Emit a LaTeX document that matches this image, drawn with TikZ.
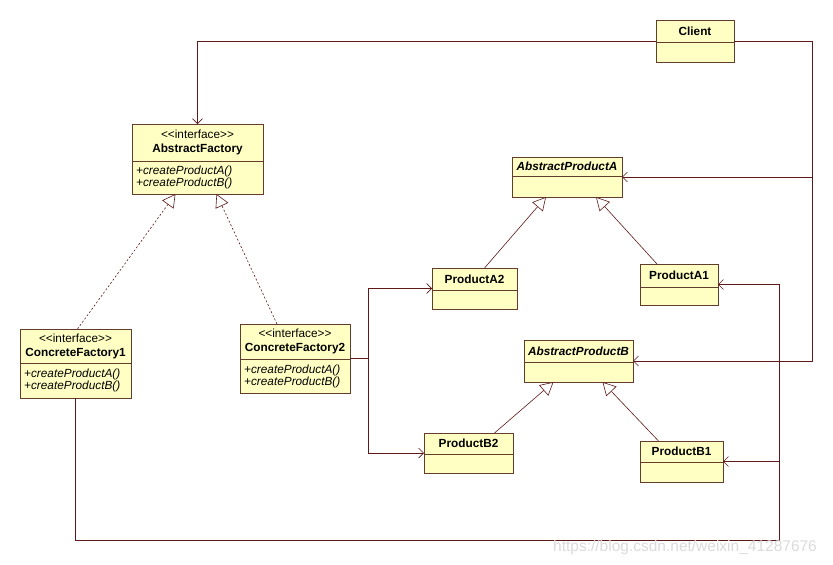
\documentclass[tikz,border=0pt]{standalone}
\usepackage{fontspec}
\setmainfont{Liberation Sans}
\usetikzlibrary{arrows.meta}
\definecolor{umlfill}{RGB}{255,255,196}
\definecolor{umlline}{RGB}{95,25,25}
\definecolor{umlbox}{RGB}{100,60,45}
\tikzset{
  clsbox/.style={draw=umlbox, fill=umlfill, line width=0.8pt, inner sep=0pt, outer sep=0pt, rectangle},
  clsline/.style={draw=umlbox, line width=0.8pt},
  clstext/.style={inner sep=2pt, font=\fontsize{11.8}{14}\selectfont, text=black},
  bodytext/.style={inner sep=4pt, font=\fontsize{11.8}{12}\selectfont\itshape, text=black, anchor=west, align=left},
  assoc/.style={draw=umlline, line width=0.6pt, -{Straight Barb[length=5pt,width=10pt]}},
  gen/.style={draw=umlline, line width=0.6pt, -{Triangle[open,length=13pt,width=14pt,fill=white]}},
  real/.style={gen, dash pattern=on 2pt off 2pt},
  plainline/.style={draw=umlline, line width=0.6pt}
}
\newcommand{\stereo}{<\kern0pt<interface>\kern0pt>}
\newcommand{\umlclass}[8]{%
  \node[clsbox, minimum width={(#4-#2)*1pt}, minimum height={(#5-#3)*1pt}] (#1) at ({(#2+#4)/2},{(#3+#5)/2}) {};
  \draw[clsline] (#2,#6) -- (#4,#6);
  \node[clstext, align=center] (#1-h) at ({(#2+#4)/2},{(#3+#6)/2}) {#7};
  \node[bodytext] (#1-b) at (#2,{(#6+#5)/2}) {#8};
}
\begin{document}
\begin{tikzpicture}[x=1pt,y=-1pt]
\fill[white] (0,0) rectangle (833,565);
\useasboundingbox (0,0) rectangle (833,565);

\umlclass{client}{656}{20}{734}{62}{42}{\bfseries Client}{}
\umlclass{af}{132}{124}{263}{194}{161}{\stereo\\\bfseries AbstractFactory}{+createProductA()\\+createProductB()}
\umlclass{cf1}{20}{329}{131}{398}{363}{\stereo\\\bfseries ConcreteFactory1}{+createProductA()\\+createProductB()}
\umlclass{cf2}{240}{324}{350}{393}{359}{\stereo\\\bfseries ConcreteFactory2}{+createProductA()\\+createProductB()}
\umlclass{apa}{512}{157}{622}{197}{176}{\bfseries\itshape AbstractProductA}{}
\umlclass{pa2}{432}{268}{517}{309}{290}{\bfseries ProductA2}{}
\umlclass{pa1}{640}{264}{718}{305}{287}{\bfseries ProductA1}{}
\umlclass{apb}{524}{340}{633}{382}{362}{\bfseries\itshape AbstractProductB}{}
\umlclass{pb2}{424}{433}{513}{473}{454}{\bfseries ProductB2}{}
\umlclass{pb1}{640}{441}{723}{482}{462}{\bfseries ProductB1}{}

% Client associations
\draw[assoc] (client.west) -| (af.north);
\coordinate (rt) at (812,361);
\draw[assoc] (client.east) -| (rt) -- (apb.east);
\draw[assoc] (rt |- apa.east) -- (apa.east);

% ConcreteFactory2 associations
\coordinate (j2) at (368,359);
\draw[plainline] (cf2.east) -- (cf2.east -| j2);
\draw[assoc] (cf2.east -| j2) |- (pa2.west);
\draw[assoc] (cf2.east -| j2) |- (pb2.west);

% ConcreteFactory1 associations
\coordinate (j1) at (779,540);
\draw[assoc] (cf1.south) |- (j1) |- (pa1.east);
\draw[assoc] (j1 |- pb1.east) -- (pb1.east);

% Realizations
\draw[real] ([xshift=2pt]cf1.north) -- ([xshift=-22pt]af.south);
\draw[real] ([xshift=-18pt]cf2.north) -- ([xshift=19pt]af.south);

% Generalizations
\draw[gen] ([xshift=10pt]pa2.north) -- ([xshift=-21pt]apa.south);
\draw[gen] ([xshift=-22pt]pa1.north) -- ([xshift=29pt]apa.south);
\draw[gen] ([xshift=26pt]pb2.north) -- ([xshift=-25pt]apb.south);
\draw[gen] ([xshift=-23pt]pb1.north) -- ([xshift=24pt]apb.south);

% watermark
\node[text=black!14, font=\fontsize{15.5}{15.5}\selectfont, anchor=west, inner sep=0pt] (wm) at (553,547) {https://blog.csdn.net/weixin\_41287676};
\end{tikzpicture}
\end{document}
